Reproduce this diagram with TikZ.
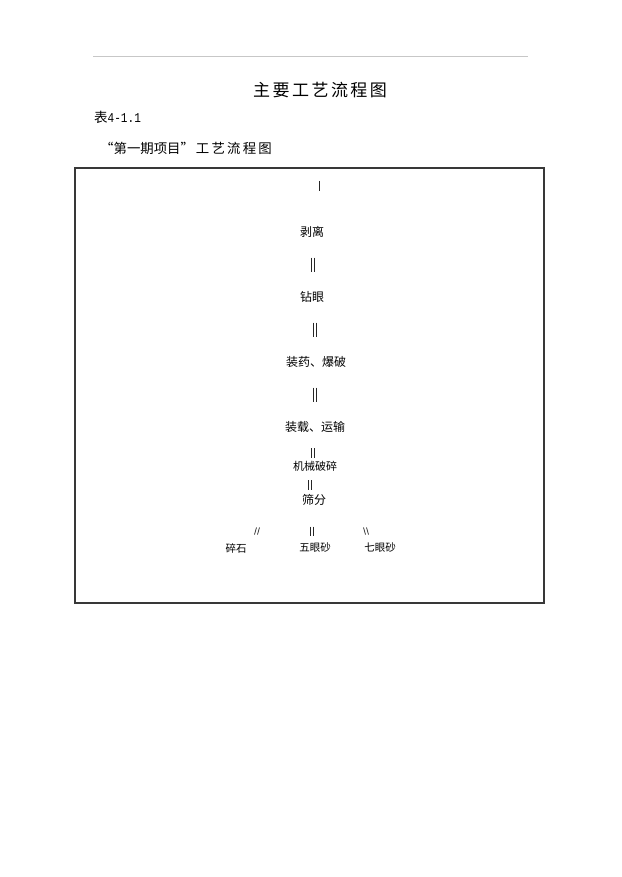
\documentclass[tikz,border=0pt]{standalone}
\usepackage{fontspec}
\usepackage{graphicx}
\usetikzlibrary{calc}
\newfontfamily\cjk{Noto Sans CJK SC}
\newfontfamily\monofnt{Liberation Mono}
\begin{document}
\begin{tikzpicture}[x=1pt,y=-1pt,
  flow/.style={font=\cjk\fontsize{12}{12}\selectfont, inner sep=0pt, text=black},
  small/.style={font=\cjk\fontsize{11}{11}\selectfont, inner sep=0pt, text=black},
  tiny/.style={font=\cjk\fontsize{10.5}{10.5}\selectfont, inner sep=0pt, text=black},
  barline/.style={line width=0.7pt, black!85},
  dbar/.pic={\draw[barline] (-1.6,-#1) -- (-1.6,#1) (1.6,-#1) -- (1.6,#1);},
  sbar/.pic={\draw[barline] (0,-#1) -- (0,#1);},
  lslash/.pic={\draw[barline] (-0.5,-3.5) -- (-2.5,3.5) (2.5,-3.5) -- (0.5,3.5);},
  rslash/.pic={\draw[barline] (-2.5,-3.5) -- (-0.5,3.5) (0.5,-3.5) -- (2.5,3.5);}
]
\useasboundingbox[fill=white] (0,0) rectangle (621,877);
% header rule
\draw[line width=0.8pt, black!22] (93,56) -- (528,56);
% title
\node[font=\cjk\fontsize{17}{17}\selectfont, inner sep=0pt] (title) at (320,90)
  {主\kern2.5pt 要\kern2.5pt 工\kern2.5pt 艺\kern2.5pt 流\kern2.5pt 程\kern2.5pt 图};
\node[anchor=west, inner sep=0pt] (tab) at (94,117)
  {\cjk\fontsize{13.5}{13.5}\selectfont 表\monofnt\fontsize{13.5}{13.5}\selectfont\scalebox{0.82}[1]{4-1.1}};
\node[anchor=west, inner sep=0pt, font=\cjk\fontsize{13.4}{13.4}\selectfont] (sub) at (100,148)
  {“第一期项目”\kern2pt 工\kern2.2pt 艺\kern2.2pt 流\kern2.2pt 程\kern2.2pt 图};
% frame
\draw[line width=1.5pt, black!78] (75,168) rectangle (544,603);
% flow nodes
\node[flow] (n1) at (312,232) {剥离};
\node[flow] (n2) at (312,297) {钻眼};
\node[flow] (n3) at (316,362) {装药、爆破};
\node[flow] (n4) at (315,427) {装载、运输};
\node[small] (n5) at (315,466) {机械破碎};
\node[flow] (n6) at (314,500) {筛分};
\node[tiny] (o1) at (236,548) {碎石};
\node[tiny] (o2) at (315,548) {五眼砂};
\node[tiny] (o3) at (380,548) {七眼砂};
% connector glyphs
\coordinate (c0) at (319,186);
\coordinate (c1) at ($(n1)!0.5!(n2)$);
\coordinate (c2) at ($(n2)!0.5!(n3)$);
\coordinate (c3) at ($(n3)!0.5!(n4)$);
\coordinate (c4) at (313,453);
\coordinate (c5) at (310,485);
\coordinate (c6) at (257,531);
\coordinate (c7) at (312,531);
\coordinate (c8) at (366,531);
\pic at (c0) {sbar=5};
\pic at ([xshift=1pt]c1) {dbar=7};
\pic at ([xshift=1pt]c2) {dbar=7};
\pic at ([xshift=-1pt]c3) {dbar=7};
\pic at (c4) {dbar=5};
\pic at (c5) {dbar=5};
\pic at (c6) {lslash};
\pic at (c7) {dbar=4.5};
\pic at (c8) {rslash};
\end{tikzpicture}
\end{document}
